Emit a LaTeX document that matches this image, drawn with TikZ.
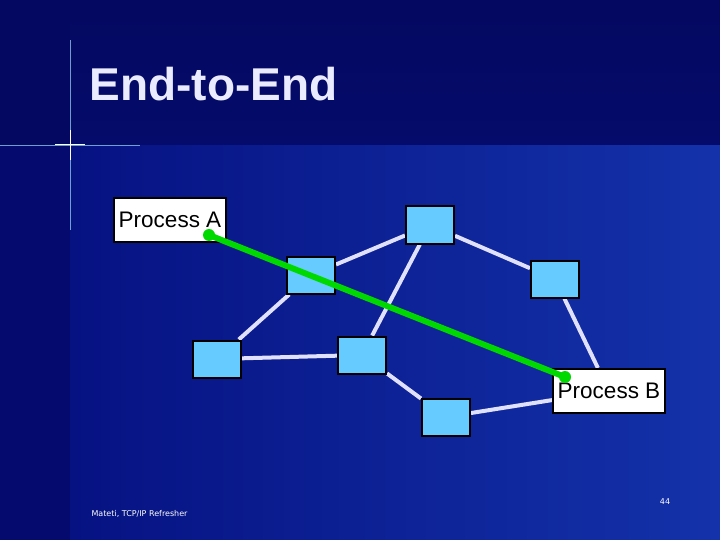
\documentclass[tikz,border=0pt]{standalone}
\usepackage{fontspec}
\setmainfont{Liberation Sans}
\newfontfamily\footfont{DejaVu Sans}
\begin{document}
\begin{tikzpicture}[x=1pt,y=-1pt,
  sw/.style={draw=black,line width=2pt,fill=swfill,minimum width=48pt,minimum height=37pt,inner sep=0pt},
  proc/.style={draw=black,line width=2pt,fill=white,inner sep=0pt,minimum width=112pt,minimum height=44pt,font=\fontsize{22.5}{24}\selectfont},
  link/.style={draw=white!88!blue,line width=4pt},
  dot/.style={circle,fill=green!85!black,minimum size=12pt,inner sep=0pt}]
\definecolor{swfill}{RGB}{102,204,255}
\definecolor{topbg}{RGB}{4,8,96}
\definecolor{leftbg}{RGB}{4,10,110}
\definecolor{mainL}{RGB}{6,18,130}
\definecolor{mainR}{RGB}{20,50,170}
\useasboundingbox (0,0) rectangle (720,540);
\fill[topbg] (0,0) rectangle (720,540);
\fill[leftbg] (0,145) rectangle (70,540);
\shade[left color=mainL,right color=mainR] (70,145) rectangle (720,540);
\shade[top color=topbg,bottom color=topbg!70!mainL] (70,0) rectangle (720,145);
% flare
\draw[white!60!cyan,line width=0.8pt,opacity=0.7] (0,145) -- (140,145);
\draw[white!60!cyan,line width=0.8pt,opacity=0.7] (70,40) -- (70,230);
\draw[white,line width=1pt] (55,145) -- (85,145) (70,130) -- (70,160);
\node[anchor=west,text=white!92!blue,font=\fontsize{46}{50}\selectfont\bfseries] (title) at (86,84) {End-to-End};
\node[sw] (s1) at (430,225) {};
\node[sw] (s2) at (311,275) {};
\node[sw] (s3) at (555,279) {};
\node[sw] (s4) at (217,359) {};
\node[sw] (s5) at (362,355) {};
\node[sw] (s6) at (446,417) {};
\node[proc] (pa) at (170,220) {Process A};
\node[proc] (pb) at (609,391) {Process B};
\path[link] (s2) -- (s1) (s2) -- (s4) (s4) -- (s5) (s5) -- (s1) (s5) -- (s6) (s6) -- (pb) (s1) -- (s3) (s3) -- (pb);
\node[sw] at (s1) {};\node[sw] at (s2) {};\node[sw] at (s3) {};
\node[sw] at (s4) {};\node[sw] at (s5) {};\node[sw] at (s6) {};
\node[proc] at (pa) {Process A};
\node[proc] at (pb) {Process B};
\node[dot] (da) at (209,235) {};
\node[dot] (db) at (565,377) {};
\draw[green!85!black,line width=6pt] (da.center) -- (db.center);
\node[anchor=west,text=white,font=\footfont\fontsize{8}{10}\selectfont] (foot) at (88,514) {Mateti, TCP/IP Refresher};
\node[text=white,font=\footfont\fontsize{8}{10}\selectfont] (num) at (665,502) {44};
\end{tikzpicture}
\end{document}
